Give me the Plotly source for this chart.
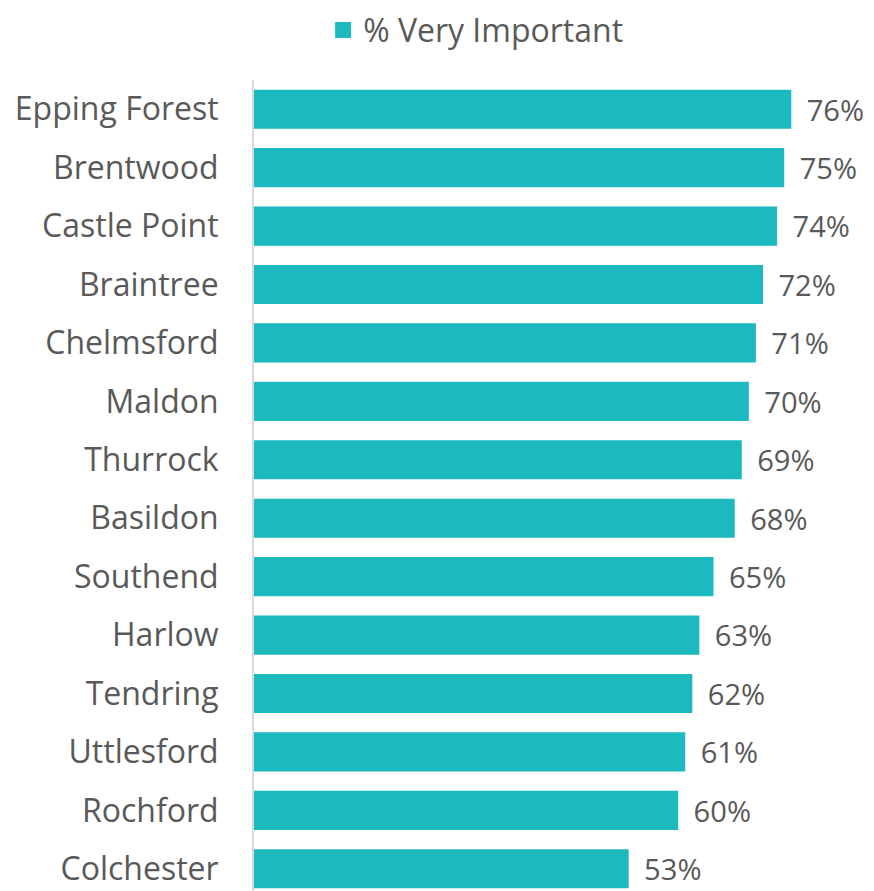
import plotly.graph_objects as go

categories = ["Epping Forest", "Brentwood", "Castle Point", "Braintree", "Chelmsford",
              "Maldon", "Thurrock", "Basildon", "Southend", "Harlow", "Tendring",
              "Uttlesford", "Rochford", "Colchester"]
values = [76, 75, 74, 72, 71, 70, 69, 68, 65, 63, 62, 61, 60, 53]
labels = [f"{v}%" for v in values]
series_name = "% Very Important"

FONT = "Open Sans, Lato, sans-serif"
GREY = "#595959"
TEAL = "#1CB9BE"
FS = 32

fig = go.Figure()
fig.add_trace(go.Bar(
    y=categories, x=values, orientation="h",
    name=series_name, marker=dict(color=TEAL, line=dict(width=0)),
    text=labels, texttemplate=" \u2009%{text}", textposition="outside", cliponaxis=False,
    textfont=dict(family=FONT, size=FS, color=GREY),
    showlegend=False,
))
# legend entry with a larger square swatch
fig.add_trace(go.Scatter(
    x=[None], y=[None], mode="markers", name=series_name,
    marker=dict(symbol="square", size=21, color=TEAL),
    showlegend=True,
))

fig.update_layout(
    width=866, height=883,
    margin=dict(l=246, r=0, t=72, b=0, autoexpand=False),
    plot_bgcolor="white", paper_bgcolor="white",
    bargap=0.33,
    font=dict(family=FONT, size=FS, color=GREY),
    legend=dict(orientation="h", x=0.540, xanchor="center", xref="container",
                y=0.975, yanchor="middle", yref="container",
                itemsizing="trace",
                font=dict(family=FONT, size=FS, color=GREY)),
    xaxis=dict(range=[0, 87.7], visible=False, showgrid=False, automargin=False),
    yaxis=dict(categoryorder="array", categoryarray=categories,
               range=[13.38, -0.5], showgrid=False, showline=True,
               linecolor="#D9D9D9", linewidth=2, ticks="", automargin=False,
               ticklabelstandoff=27, tickfont=dict(family=FONT, size=FS, color=GREY)),
)

fig.write_html("out.html")
